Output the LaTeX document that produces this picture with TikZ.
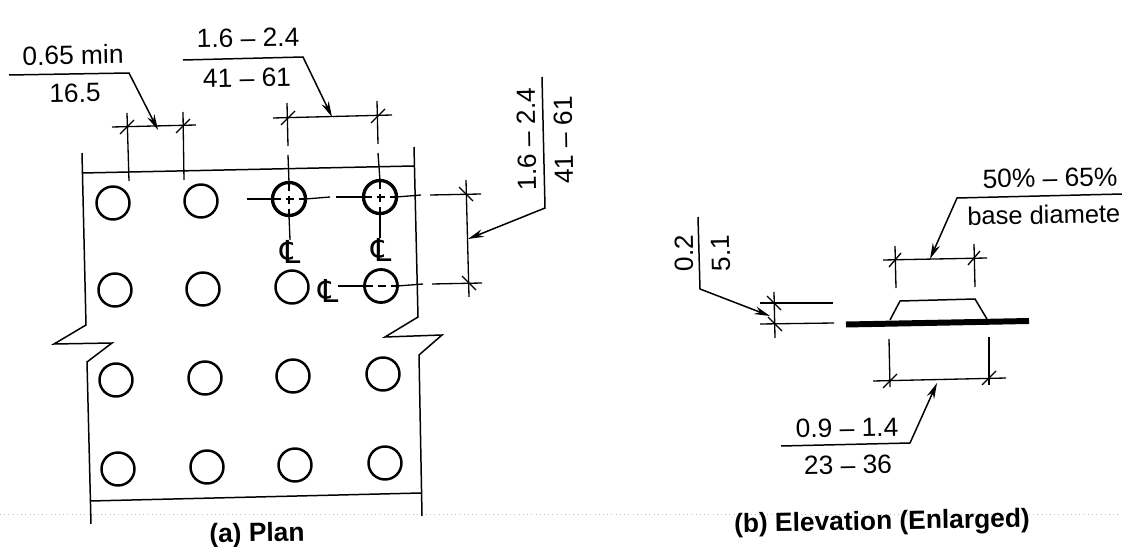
\documentclass[tikz,border=0pt]{standalone}
\usepackage{fontspec}
\setmainfont{Liberation Sans}
\newfontfamily\clfont{DejaVu Sans}
\usetikzlibrary{arrows.meta}
\tikzset{
  stud/.style={circle,draw,line width=1.4pt,minimum size=0.66cm,inner sep=0pt,outer sep=0pt},
  heavystud/.style={stud,line width=1.9pt},
  thinline/.style={line width=0.75pt},
  edgeline/.style={line width=0.85pt},
  hidden/.style={line width=0.7pt,dash pattern=on 5pt off 2.5pt},
  leader/.style={line width=0.85pt,-{Stealth[length=9pt,width=4.5pt]}},
  dimtext/.style={font=\fontsize{15}{18}\selectfont,inner sep=0pt,rotate=1},
  uptext/.style={font=\fontsize{15}{18}\selectfont,inner sep=0pt,rotate=91},
  captext/.style={font=\fontsize{15}{18}\selectfont\bfseries,inner sep=0pt,rotate=1},
  clmark/.style={font=\fontsize{18}{18}\clfont,inner sep=0pt}
}
\begin{document}
\begin{tikzpicture}[x=0.02cm,y=-0.02cm]
\useasboundingbox (0,0) rectangle (1122,547);
% scan line behind the captions
\coordinate (scanl) at (0,514);
\coordinate (scanr) at (1122,514);
\draw[gray!50,line width=0.4pt,dotted] (scanl) -- (scanr);
% studs of the plan
\foreach \nm/\px/\py in {a/113/203,b/201/201,
    e/115/290,f/203/289,g/292/287,
    i/116/380,j/205/378,k/293/376,l/383/374,
    m/118/469,n/207/467,o/295/465,p/385/463} {
    \node[stud] (\nm) at (\px,\py) {};
}
\node[heavystud] (c) at (289,199) {};
\node[heavystud] (d) at (380,197) {};
\node[stud,line width=1.6pt] (h) at (381,286) {};
% plate outline
\draw[edgeline] (82,173) -- (414,166);
\draw[edgeline] (90,501) -- (421,493);
\draw[edgeline] (82,153) -- (86,325) -- (54,344) -- (112,343) -- (87,362) -- (91,524);
\draw[edgeline] (414,147) -- (418,317) -- (385,337) -- (442,335) -- (419,355) -- (422,516);
% 0.65 min
\coordinate (wl) at (127,127);
\coordinate (wr) at (183,126);
\draw[thinline] (112,127) -- (196,125);
\draw[thinline] (127,113) -- (129,181);
\draw[thinline] (183,112) -- (184,180);
\foreach \t in {wl,wr} {\draw[thinline] (\t) +(-7,7) -- +(7,-7);}
\coordinate (wa) at (9,75);
\coordinate (wb) at (129,73);
\coordinate (wc) at (158,130);
\draw[leader] (wa) -- (wb) -- (wc);
\node[dimtext] (wtop) at (73,55) {0.65 min};
\node[dimtext] (wbot) at (75,93) {16.5};
% 1.6 - 2.4 across
\coordinate (sl) at (288,118);
\coordinate (sr) at (378,116);
\draw[thinline] (273,118) -- (392,115);
\draw[thinline] (287,103) -- (288,146);
\draw[thinline] (288,155) -- (c.north);
\draw[thinline] (c.south) -- (290,240);
\draw[thinline] (377,101) -- (378,144);
\draw[thinline] (378,153) -- (d.north);
\draw[thinline] (d.south) -- (380,238);
\foreach \t in {sl,sr} {\draw[thinline] (\t) +(-7,7) -- +(7,-7);}
\coordinate (sa) at (183,60);
\coordinate (sb) at (303,57);
\coordinate (sc) at (332,117);
\draw[leader] (sa) -- (sb) -- (sc);
\node[dimtext] (stop) at (248,38) {1.6 -- 2.4};
\node[dimtext] (sbot) at (247,78) {41 -- 61};
% centre lines through the studs
\draw[thinline] (247,199) -- (c.west);
\draw[thinline] (c.east) -- (330,197);
\draw[thinline] (336,197) -- (d.west);
\draw[thinline] (d.east) -- (421,195);
\draw[thinline] (430,195) -- (481,194);
\draw[thinline] (338,286) -- (h.west);
\draw[thinline] (h.east) -- (423,284);
\draw[thinline] (432,284) -- (482,283);
\draw[hidden] (c.west) -- (c.east);
\draw[hidden] (c.north) -- (c.south);
\draw[hidden] (d.west) -- (d.east);
\draw[hidden] (d.north) -- (d.south);
\draw[hidden] (h.west) -- (h.east);
\node[clmark] (cla) at (291,252) {℄};
\node[clmark] (clb) at (382,250) {℄};
\node[clmark] (clc) at (329,291) {℄};
% 1.6 - 2.4 down
\coordinate (vt) at (466,194);
\coordinate (vb) at (469,283);
\draw[thinline] (466,180) -- (469,297);
\foreach \t in {vt,vb} {\draw[thinline] (\t) +(-7,-7) -- +(7,7);}
\coordinate (va) at (542,77);
\coordinate (vc) at (545,208);
\coordinate (vd) at (468,239);
\draw[leader] (va) -- (vc) -- (vd);
\node[uptext] (vleft) at (527,139) {1.6 -- 2.4};
\node[uptext] (vright) at (564,140) {41 -- 61};
% elevation
\draw[line width=3.4pt] (846,324.5) -- (1029,321);
\draw[edgeline] (890,320) -- (900,301) -- (975,299) -- (987,319);
% 50% - 65%
\coordinate (tl) at (895,260);
\coordinate (tr) at (974,258);
\draw[thinline] (883,260) -- (987,258);
\draw[thinline] (895,246) -- (896,288);
\draw[thinline] (974,244) -- (975,287);
\foreach \t in {tl,tr} {\draw[thinline] (\t) +(-6,7) -- +(6,-7);}
\coordinate (ta) at (1122,194);
\coordinate (tb) at (957,198);
\coordinate (tc) at (930,259);
\draw[leader] (ta) -- (tb) -- (tc);
\node[dimtext] (ttop) at (1050,178) {50\% -- 65\%};
\node[dimtext,anchor=west,font=\fontsize{14.5}{18}\selectfont] (tbot) at (967,216) {base diamete};
% 0.2
\coordinate (hu) at (774,303);
\coordinate (hd) at (775,324);
\draw[thinline] (760,303) -- (833,303);
\draw[thinline] (760,324) -- (834,323);
\draw[thinline] (774,292) -- (775,338);
\foreach \t in {hu,hd} {\draw[thinline] (\t) +(-7,-7) -- +(7,7);}
\coordinate (ha) at (698,217);
\coordinate (hb) at (700,289);
\coordinate (hc) at (770,316);
\draw[leader] (ha) -- (hb) -- (hc);
\node[uptext] (hleft) at (684,253) {0.2};
\node[uptext] (hright) at (721,253) {5.1};
% 0.9 - 1.4
\coordinate (bl) at (890,381);
\coordinate (br) at (989,378);
\draw[thinline] (873,381) -- (1006,378);
\draw[thinline] (889,339) -- (890,387);
\draw[thinline] (989,337) -- (989,385);
\foreach \t in {bl,br} {\draw[thinline] (\t) +(-7,7) -- +(7,-7);}
\coordinate (ba) at (781,446);
\coordinate (bb) at (910,443);
\coordinate (bc) at (937,383);
\draw[leader] (ba) -- (bb) -- (bc);
\node[dimtext] (btop) at (847,428) {0.9 -- 1.4};
\node[dimtext] (bbot) at (848,465) {23 -- 36};
% captions
\node[captext] (plancap) at (257,535) {(a) Plan};
\node[captext] (elevcap) at (882,523) {(b) Elevation (Enlarged)};
\end{tikzpicture}
\end{document}
